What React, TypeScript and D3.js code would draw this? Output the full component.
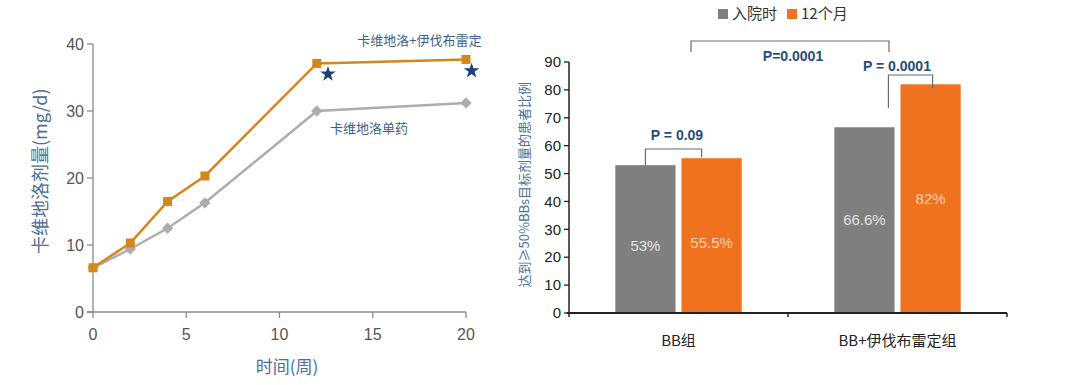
import React from "react";
import * as d3 from "d3";

// left chart: carvedilol dose over time
const weeks = [0, 2, 4, 6, 12, 20];
const comboDose = [6.6, 10.3, 16.5, 20.3, 37.1, 37.7];
const monoDose = [6.6, 9.4, 12.5, 16.3, 30.0, 31.2];
const doseTicks = [0, 10, 20, 30, 40];
const weekTicks = [0, 5, 10, 15, 20];
const starWeeks = [12.6, 20.3];
const starDose = [35.5, 36.0];

// right chart: share of patients reaching >=50% target dose
const groups = ["BB组", "BB+伊伐布雷定组"];
const periods = ["入院时", "12个月"];
const baseline = [53, 66.6];
const month12 = [55.5, 82];
const valueLabels = [["53%", "55.5%"], ["66.6%", "82%"]];
const pctTicks = [0, 10, 20, 30, 40, 50, 60, 70, 80, 90];

const ORANGE_LINE = "#d4861c";
const GRAY_LINE = "#adadad";
const GRAY_BAR = "#7f7f7f";
const ORANGE_BAR = "#f0711e";
const NAVY = "#1f4e7a";
const CJK = "'Noto Sans CJK SC', 'Liberation Sans', sans-serif";
const NUM = "'Liberation Sans', 'Noto Sans', sans-serif";

function DoseChart() {
  const x = d3.scaleLinear().domain([0, 20]).range([93, 466]);
  const y = d3.scaleLinear().domain([0, 40]).range([312, 44]);
  const line = d3.line<number>()
    .x((d, i) => x(weeks[i]))
    .y(d => y(d));
  const star = d3.symbol().type(d3.symbolStar).size(75)();

  return (
    <g>
      {/* axes */}
      <line x1={x(0)} x2={x(0)} y1={y(40)} y2={y(0)} stroke="#8a8a8a" strokeWidth={1.3} />
      <line x1={x(0) - 6} x2={x(20)} y1={y(0)} y2={y(0)} stroke="#8a8a8a" strokeWidth={1.3} />
      {doseTicks.map(t => (
        <g key={t}>
          <line x1={x(0) - 6} x2={x(0)} y1={y(t)} y2={y(t)} stroke="#8a8a8a" strokeWidth={1.3} />
          <text x={x(0) - 9} y={y(t)} dy="0.35em" textAnchor="end" fontSize={16} fill="#555" fontFamily={NUM}>{t}</text>
        </g>
      ))}
      {weekTicks.map(t => (
        <g key={t}>
          <line x1={x(t)} x2={x(t)} y1={y(0)} y2={y(0) + 6} stroke="#8a8a8a" strokeWidth={1.3} />
          <text x={x(t)} y={y(0) + 28} textAnchor="middle" fontSize={16} fill="#555" fontFamily={NUM}>{t}</text>
        </g>
      ))}
      <text transform={`translate(47,${y(21)}) rotate(-90)`} textAnchor="middle" fontSize={18} fill="#4a6f98" fontFamily={CJK}>卡维地洛剂量(mg/d)</text>
      <text x={287} y={373} textAnchor="middle" fontSize={17} fill="#4a6f98" fontFamily={CJK}>时间(周)</text>

      {/* mono therapy line */}
      <path d={line(monoDose) ?? ""} fill="none" stroke={GRAY_LINE} strokeWidth={2.5} />
      {monoDose.map((d, i) => (
        <rect key={i} x={x(weeks[i]) - 4} y={y(d) - 4} width={8} height={8}
          transform={`rotate(45 ${x(weeks[i])} ${y(d)})`} fill={GRAY_LINE} />
      ))}
      {/* combo line */}
      <path d={line(comboDose) ?? ""} fill="none" stroke={ORANGE_LINE} strokeWidth={2.5} />
      {comboDose.map((d, i) => (
        <rect key={i} x={x(weeks[i]) - 4.5} y={y(d) - 4.5} width={9} height={9} fill={ORANGE_LINE} />
      ))}

      <text x={x(17.5)} y={y(39.8)} textAnchor="middle" fontSize={13} fill="#3d5f86" fontFamily={CJK}>卡维地洛+伊伐布雷定</text>
      <text x={x(14.8)} y={y(26.7)} textAnchor="middle" fontSize={13} fill="#3d5f86" fontFamily={CJK}>卡维地洛单药</text>
      {starWeeks.map((w, i) => (
        <path key={i} d={star ?? ""} transform={`translate(${x(w)},${y(starDose[i])})`} fill="#1f3f7a" />
      ))}
    </g>
  );
}

function Bracket({ x1, x2, yTop, y1, y2 }: { x1: number; x2: number; yTop: number; y1: number; y2: number }) {
  return (
    <path d={`M${x1},${y1}V${yTop}H${x2}V${y2}`} fill="none" stroke="#6b6b6b" strokeWidth={1.2} />
  );
}

function BarChart() {
  const x0 = d3.scaleBand().domain(groups).range([569, 1007]);
  const x1 = d3.scaleBand().domain(periods).range([0, x0.bandwidth()]).paddingInner(0.09).paddingOuter(0.7);
  const y = d3.scaleLinear().domain([0, 90]).range([313, 62]);
  const series = [baseline, month12];
  const colors = [GRAY_BAR, ORANGE_BAR];
  const labelColors = ["#e2e2e2", "#fbd3b4"];
  const cx = (g: number, s: number) => (x0(groups[g]) ?? 0) + (x1(periods[s]) ?? 0) + x1.bandwidth() / 2;

  return (
    <g>
      {/* legend */}
      {periods.map((p, i) => (
        <g key={p} transform={`translate(${i === 0 ? 718 : 787},14)`}>
          <rect x={0} y={-5} width={10} height={10} fill={colors[i]} />
          <text x={14} y={0} dy="0.35em" fontSize={15} fill="#333" fontFamily={CJK}>{p}</text>
        </g>
      ))}

      {/* bars */}
      {series.map((vals, s) =>
        vals.map((v, g) => (
          <rect key={`${s}-${g}`} x={(x0(groups[g]) ?? 0) + (x1(periods[s]) ?? 0)} y={y(v)}
            width={x1.bandwidth()} height={y(0) - y(v)} fill={colors[s]} />
        ))
      )}
      {series.map((vals, s) =>
        vals.map((v, g) => (
          <text key={`l${s}-${g}`} x={cx(g, s)} y={y(v * 0.5 - (v > 60 ? 0 : 2.5)) } dy="0.35em" textAnchor="middle"
            fontSize={15} fill={labelColors[s]} fontFamily={NUM}>{valueLabels[g][s]}</text>
        ))
      )}

      {/* axes */}
      <line x1={569} x2={569} y1={y(90)} y2={y(0)} stroke="#222" strokeWidth={1.5} />
      <line x1={567} x2={1007} y1={y(0)} y2={y(0)} stroke="#222" strokeWidth={2} />
      {[569, 788, 1007].map(t => (
        <line key={t} x1={t} x2={t} y1={y(0)} y2={y(0) + 4} stroke="#222" strokeWidth={1.5} />
      ))}
      {pctTicks.map(t => (
        <g key={t}>
          <line x1={564} x2={569} y1={y(t)} y2={y(t)} stroke="#222" strokeWidth={1.3} />
          <text x={561} y={y(t)} dy="0.35em" textAnchor="end" fontSize={15} fill="#222" fontFamily={NUM}>{t}</text>
        </g>
      ))}
      {groups.map(gr => (
        <text key={gr} x={(x0(gr) ?? 0) + x0.bandwidth() / 2} y={346} textAnchor="middle" fontSize={15} fill="#222" fontFamily={CJK}>{gr}</text>
      ))}
      <text transform={`translate(529,${y(46)}) rotate(-90)`} textAnchor="middle" fontSize={13} fill="#4a6f98" fontFamily={CJK}>达到≥50%BBs目标剂量的患者比例</text>

      {/* significance brackets */}
      <Bracket x1={cx(0, 0)} x2={cx(0, 1) - 10} yTop={149} y1={y(baseline[0])} y2={y(month12[0]) - 1} />
      <text x={677} y={135} dy="0.35em" textAnchor="middle" fontSize={14} fontWeight="bold" fill={NAVY} fontFamily={NUM}>P = 0.09</text>
      <Bracket x1={cx(1, 0) + 24} x2={cx(1, 1) + 2} yTop={75} y1={108} y2={y(month12[1]) + 4} />
      <text x={897} y={66} dy="0.35em" textAnchor="middle" fontSize={14} fontWeight="bold" fill={NAVY} fontFamily={NUM}>P = 0.0001</text>
      <Bracket x1={691} x2={889} yTop={41} y1={52} y2={52} />
      <text x={793} y={56} dy="0.35em" textAnchor="middle" fontSize={14} fontWeight="bold" fill={NAVY} fontFamily={NUM}>P=0.0001</text>
    </g>
  );
}

export default function App() {
  return (
    <svg width={1080} height={385} style={{ position: "absolute", left: 0, top: 0, background: "#fff" }}>
      <rect width={1080} height={385} fill="#fff" />
      <DoseChart />
      <BarChart />
    </svg>
  );
}
